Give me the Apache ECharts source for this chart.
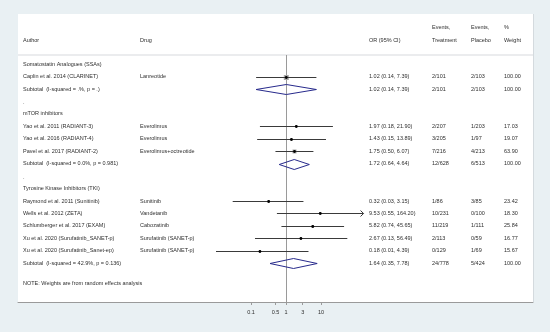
<!DOCTYPE html>
<html><head><meta charset="utf-8">
<script src="https://cdn.jsdelivr.net/npm/echarts@6/dist/echarts.min.js"></script>
<style>html,body{margin:0;padding:0;background:#e9f0f3}#c{width:550px;height:332px}</style>
</head><body><div id="c"></div>
<script>
// ---- data ----
const groupTitles = ['Somatostatin Analogues (SSAs)', 'mTOR inhibitors', 'Tyrosine Kinase Inhibitors (TKI)'];
const groupRows = [0, 4, 10];
const dotRows = [3, 9];
const studyAuthors = ['Caplin et al. 2014 (CLARINET)', 'Yao et al. 2011 (RADIANT-3)', 'Yao et al. 2016 (RADIANT-4)',
  'Pavel et al. 2017 (RADIANT-2)', 'Raymond et al. 2011 (Sunitinib)', 'Wells et al. 2012 (ZETA)',
  'Schlumberger et al. 2017 (EXAM)', 'Xu et al. 2020 (Surufatinib_SANET-p)', 'Xu et al. 2020 (Surufatinib_Sanet-ep)'];
const studyDrugs = ['Lanreotide', 'Everolimus', 'Everolimus', 'Everolimus+octreotide', 'Sunitinib', 'Vandetanib',
  'Cabozatinib', 'Surufatinib (SANET-p)', 'Surufatinib (SANET-p)'];
const studyRows = [1, 5, 6, 7, 11, 12, 13, 14, 15];
const studyOR = [1.02, 1.97, 1.43, 1.75, 0.32, 9.53, 5.82, 2.67, 0.18];
const studyLow = [0.14, 0.18, 0.15, 0.50, 0.03, 0.55, 0.74, 0.13, 0.01];
const studyHigh = [7.39, 21.90, 13.89, 6.07, 3.15, 164.20, 45.65, 56.49, 4.39];
const studyEvT = ['2/101', '2/207', '3/205', '7/216', '1/86', '10/231', '11/219', '2/113', '0/129'];
const studyEvP = ['2/103', '1/203', '1/97', '4/213', '3/85', '0/100', '1/111', '0/59', '1/69'];
const studyWeight = [100.00, 17.03, 19.07, 63.90, 23.42, 18.30, 25.84, 16.77, 15.67];
const subLabels = ['Subtotal  (I-squared = .%, p = .)', 'Subtotal  (I-squared = 0.0%, p = 0.981)', 'Subtotal  (I-squared = 42.9%, p = 0.136)'];
const subRows = [2, 8, 16];
const subOR = [1.02, 1.72, 1.64];
const subLow = [0.14, 0.64, 0.35];
const subHigh = [7.39, 4.64, 7.78];
const subEvT = ['2/101', '12/628', '24/778'];
const subEvP = ['2/103', '6/513', '5/424'];
const subWeight = [100.00, 100.00, 100.00];
const xTicks = [0.1, 0.5, 1, 3, 10];
const noteText = 'NOTE: Weights are from random effects analysis';
const headTop = ['', '', '', 'Events,', 'Events,', '%'];
const headBottom = ['Author', 'Drug', 'OR (95% CI)', 'Treatment', 'Placebo', 'Weight'];

// ---- layout ----
const FONT = '"Liberation Sans", Arial, sans-serif';
const FS = 5.5;
const TXT = '#2e2e2e';
const colX = [23, 140, 369, 432, 471, 504];
const panel = {x: 18, y: 14, w: 515, h: 288};
const oneX = 286, decade = 35;
const xMin = Math.pow(10, (panel.x - oneX) / decade);
const xMax = Math.pow(10, (panel.x + panel.w - oneX) / decade);
const rowPx0 = 64.2, rowStep = 12.44, gridTop = 55, gridBottomPx = 302;
const yMin = (gridTop - rowPx0) / rowStep;
const yMax = (gridBottomPx - rowPx0) / rowStep;

const fmt = v => v.toFixed(2);
const ciText = (e, l, h) => fmt(e) + ' (' + fmt(l) + ', ' + fmt(h) + ')';

const data = [];
studyOR.forEach((e, i) => data.push([e, studyLow[i], studyHigh[i], studyRows[i], studyWeight[i], 0]));
subOR.forEach((e, i) => data.push([e, subLow[i], subHigh[i], subRows[i], subWeight[i], 1]));

function renderItem(params, api) {
  const est = api.value(0), lo = api.value(1), hi = api.value(2), row = api.value(3), w = api.value(4), kind = api.value(5);
  const pE = api.coord([est, row]), pL = api.coord([lo, row]), pH = api.coord([hi, row]);
  const y = Math.round(pE[1]) + 0.5;
  if (kind === 1) {
    return {type: 'polygon', shape: {points: [[pL[0], y], [pE[0], y - 5], [pH[0], y], [pE[0], y + 5]]},
      style: {fill: 'none', stroke: '#272a8c', lineWidth: 1}};
  }
  const side = 5 * Math.sqrt(w / 100);
  const ch = [];
  ch.push({type: 'rect', shape: {x: pE[0] - side / 2, y: y - side / 2, width: side, height: side}, style: {fill: '#a8a8a8'}});
  ch.push({type: 'line', shape: {x1: pL[0], y1: y, x2: pH[0], y2: y}, style: {stroke: '#3a3a3a', lineWidth: 1}});
  ch.push({type: 'circle', shape: {cx: pE[0], cy: y, r: 1.4}, style: {fill: '#000'}});
  if (hi > 100) {
    ch.push({type: 'polyline', shape: {points: [[pH[0] - 3, y - 3], [pH[0], y], [pH[0] - 3, y + 3]]},
      style: {stroke: '#3a3a3a', fill: 'none', lineWidth: 1}});
  }
  return {type: 'group', children: ch};
}

const chart = echarts.init(document.getElementById('c'), null, {renderer: 'canvas'});
chart.setOption({
  animation: false,
  backgroundColor: '#e9f0f3',
  grid: {left: panel.x, right: 550 - panel.x - panel.w, top: gridTop, bottom: 332 - gridBottomPx, containLabel: false},
  xAxis: {
    type: 'log', logBase: 10, min: xMin, max: xMax, position: 'bottom',
    axisLine: {show: true, onZero: false, lineStyle: {color: '#9a9a9a', width: 1}},
    axisTick: {show: true, customValues: xTicks, length: 3, lineStyle: {color: '#9a9a9a'}},
    axisLabel: {show: true, customValues: xTicks, fontSize: FS, fontFamily: FONT, color: TXT, margin: 7,
      formatter: v => String(parseFloat(Number(v).toPrecision(3)))},
    splitLine: {show: false}
  },
  yAxis: {type: 'value', inverse: true, min: yMin, max: yMax, show: false},
  series: [
    {type: 'custom', renderItem: renderItem, data: data, clip: false, z: 5},
    {type: 'line', data: [], z: 3,
      markLine: {silent: true, symbol: ['none', 'none'], label: {show: false},
        lineStyle: {color: '#9a9a9a', width: 1, type: 'solid'}, data: [{xAxis: 1}]}}
  ]
});

const yPx = r => chart.convertToPixel({yAxisIndex: 0}, r);
const g = [];
const txt = (x, y, s) => g.push({type: 'text', x: x, y: y, z: 10,
  style: {text: s, fill: TXT, fontSize: FS, fontFamily: FONT, verticalAlign: 'middle', align: 'left'}});
g.push({type: 'rect', z: -10, shape: {x: panel.x, y: panel.y, width: panel.w, height: panel.h}, style: {fill: '#ffffff'}});
g.push({type: 'line', z: -9, shape: {x1: panel.x + panel.w + 0.5, y1: panel.y, x2: panel.x + panel.w + 0.5, y2: panel.y + panel.h}, style: {stroke: '#d4dade', lineWidth: 1}});
g.push({type: 'line', z: -9, shape: {x1: panel.x, y1: gridTop, x2: panel.x + panel.w, y2: gridTop}, style: {stroke: '#e4e6e8', lineWidth: 1.5}});
headTop.forEach((s, i) => { if (s) txt(colX[i], 27, s); });
headBottom.forEach((s, i) => txt(colX[i], 40, s));
groupTitles.forEach((s, i) => txt(colX[0], yPx(groupRows[i]), s));
dotRows.forEach(r => txt(colX[0], yPx(r) + 1, '.'));
studyAuthors.forEach((s, i) => {
  const y = yPx(studyRows[i]);
  txt(colX[0], y, s);
  txt(colX[1], y, studyDrugs[i]);
  txt(colX[2], y, ciText(studyOR[i], studyLow[i], studyHigh[i]));
  txt(colX[3], y, studyEvT[i]);
  txt(colX[4], y, studyEvP[i]);
  txt(colX[5], y, fmt(studyWeight[i]));
});
subLabels.forEach((s, i) => {
  const y = yPx(subRows[i]);
  txt(colX[0], y, s);
  txt(colX[2], y, ciText(subOR[i], subLow[i], subHigh[i]));
  txt(colX[3], y, subEvT[i]);
  txt(colX[4], y, subEvP[i]);
  txt(colX[5], y, fmt(subWeight[i]));
});
txt(colX[0], 283, noteText);
chart.setOption({graphic: {elements: g}});
</script></body></html>
